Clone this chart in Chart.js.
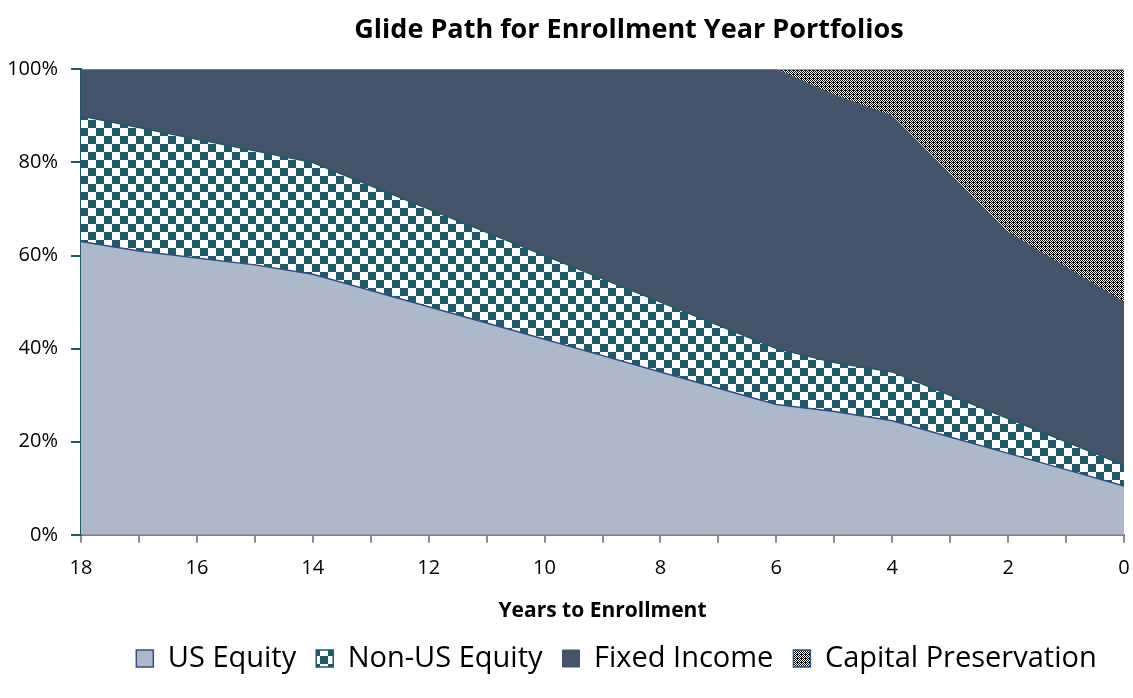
<!DOCTYPE html>
<html>
<head>
<meta charset="utf-8">
<script src="https://cdn.jsdelivr.net/npm/chart.js@4.4.1/dist/chart.umd.min.js"></script>
<style>
html,body{margin:0;padding:0;background:#fff;}
#wrap{width:1133px;height:698px;}
</style>
</head>
<body>
<div id="wrap"><canvas id="c" width="1133" height="698"></canvas></div>
<script>
const years = [18,17,16,15,14,13,12,11,10,9,8,7,6,5,4,3,2,1,0];
const usEquity = [63,61,59.5,58,56,52.5,49,45.5,42,38.5,35,31.5,28,26.5,24.5,21,17.5,14,10.5];
const nonUsEquity = [27,26.5,25.5,24.5,24,22.5,21,19.5,18,16.5,15,13.5,12,10.5,10.5,9,7.5,6,4.5];
const fixedIncome = [10,12.5,15,17.5,20,25,30,35,40,45,50,55,60,57.5,55,47.5,40,37.5,35];
const capitalPreservation = [0,0,0,0,0,0,0,0,0,0,0,0,0,5.5,10,22.5,35,42.5,50];
const seriesNames = ['US Equity','Non-US Equity','Fixed Income','Capital Preservation'];
const yTicks = [0,20,40,60,80,100];
const titleText = 'Glide Path for Enrollment Year Portfolios';
const xTitle = 'Years to Enrollment';

function makePattern(size, draw){
  const c = document.createElement('canvas');
  c.width = size; c.height = size;
  const g = c.getContext('2d');
  draw(g);
  return g.createPattern(c, 'repeat');
}
const bigChecker = makePattern(16, g => {
  g.fillStyle = '#ffffff'; g.fillRect(0,0,16,16);
  g.fillStyle = '#215968';
  g.fillRect(0,0,8,8); g.fillRect(8,8,8,8);
});
const smallChecker = makePattern(4, g => {
  g.fillStyle = '#ffffff'; g.fillRect(0,0,4,4);
  g.fillStyle = '#000000';
  for(let y=0;y<4;y++) for(let x=0;x<4;x++){
    if((x+y)%2===0) g.fillRect(x,y,1,1);
  }
  g.fillRect(1,2,1,1);
});

const shiftBlocks = {
  id: 'shiftBlocks',
  beforeDraw(chart){
    const t = chart.titleBlock;
    if(t && !t._shifted){ t.left += 53; t._shifted = true; }
    const l = chart.legend;
    if(l && !l._shifted){ l.left += 14; l.right += 14; l._shifted = true; }
  }
};

const FONT = 'Open Sans';
const ctx = document.getElementById('c').getContext('2d');
new Chart(ctx, {
  type: 'line',
  plugins: [shiftBlocks],
  data: {
    labels: years,
    datasets: [
      {label: seriesNames[0], data: usEquity, backgroundColor: '#ADB8CA', borderColor: '#2F4F86', borderWidth: 1.5, fill: 'origin'},
      {label: seriesNames[1], data: nonUsEquity, backgroundColor: bigChecker, borderColor: '#215968', borderWidth: 1.5, fill: '-1'},
      {label: seriesNames[2], data: fixedIncome, backgroundColor: '#44546A', borderColor: '#44546A', borderWidth: 1, fill: '-1'},
      {label: seriesNames[3], data: capitalPreservation, backgroundColor: smallChecker, borderColor: '#2E5C8A', borderWidth: 1.5, fill: '-1'}
    ]
  },
  options: {
    responsive: false,
    animation: false,
    elements: {point: {radius: 0}, line: {tension: 0}},
    layout: {padding: {left: 0, right: 9, top: 6, bottom: 15}},
    plugins: {
      title: {display: true, text: titleText, fullSize: false, color: '#000',
        font: {family: FONT, size: 27, weight: 'bold'}, padding: {top: 8, bottom: 23}},
      legend: {position: 'bottom', fullSize: false,
        labels: {color: '#000', font: {family: FONT, size: 29}, boxWidth: 17, boxHeight: 17, padding: 20}},
      tooltip: {enabled: false}
    },
    scales: {
      x: {
        type: 'category', offset: false,
        afterFit: function(s){ s.paddingRight = 0; },
        grid: {display: true, drawOnChartArea: false, drawTicks: true, tickLength: 8, color: '#8c8c8c', lineWidth: 2},
        border: {display: true, color: '#808080', width: 2},
        ticks: {autoSkip: false, maxRotation: 0, color: '#000', font: {family: FONT, size: 20}, padding: 13,
          callback: function(v, i){ return years[i] % 2 === 0 ? String(years[i]) : ''; }},
        title: {display: true, text: xTitle, color: '#000', font: {family: FONT, size: 21, weight: 'bold'}, padding: {top: 6, bottom: 0}}
      },
      y: {
        stacked: true, min: 0, max: 100,
        afterFit: function(s){ s.width = 81; },
        grid: {display: true, drawOnChartArea: false, drawTicks: true, tickLength: 10, color: '#215968', lineWidth: 2},
        border: {display: true, color: '#215968', width: 2},
        afterBuildTicks: function(s){ s.ticks = yTicks.map(v => ({value: v})); },
        ticks: {color: '#000', font: {family: FONT, size: 20}, padding: 13, callback: v => v + '%'}
      }
    }
  }
});
</script>
</body>
</html>
